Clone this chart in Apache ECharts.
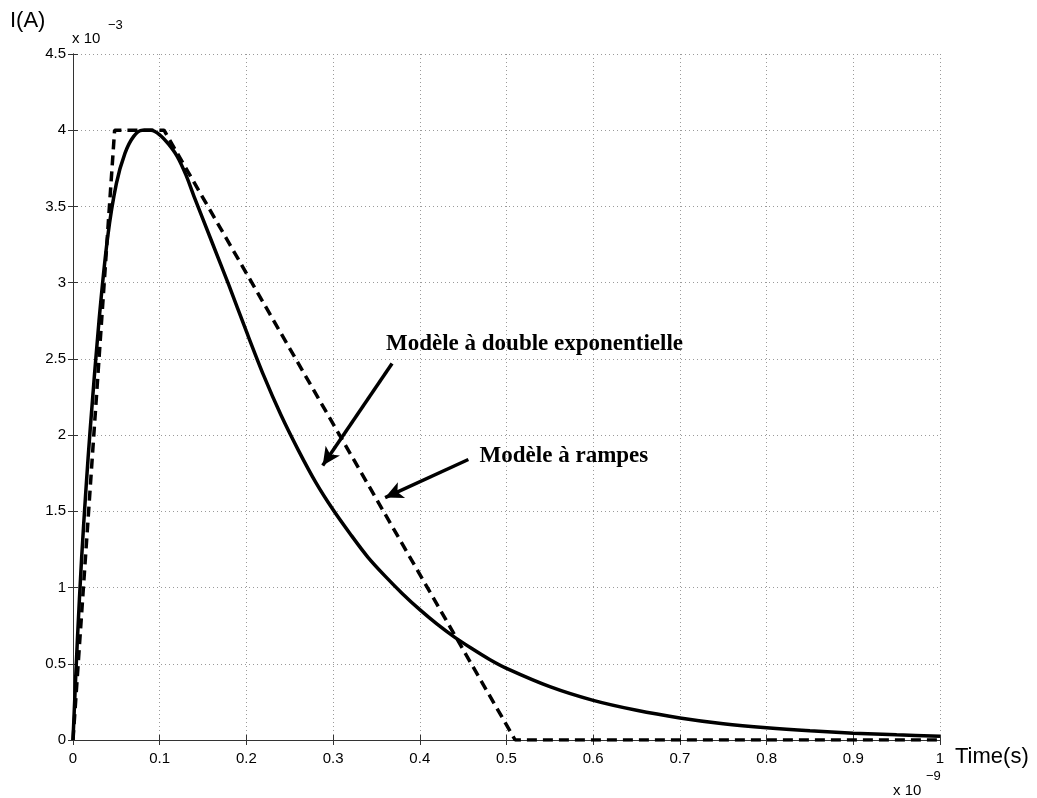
<!DOCTYPE html>
<html>
<head>
<meta charset="utf-8">
<script src="https://cdn.jsdelivr.net/npm/echarts@6/dist/echarts.min.js"></script>
<style>
  html, body { margin: 0; padding: 0; background: #fff; }
  #main { width: 1037px; height: 798px; }
</style>
</head>
<body>
<div id="main"></div>
<script>
// time in units of 1e-9 s, current in units of 1e-3 A
const expTime = [0, 0.005, 0.01, 0.015, 0.02, 0.03, 0.04, 0.05, 0.06, 0.07, 0.08, 0.09, 0.1, 0.11,
  0.12, 0.13, 0.14, 0.16, 0.18, 0.2, 0.22, 0.24, 0.26, 0.28, 0.3, 0.32, 0.34, 0.36, 0.38, 0.4,
  0.42, 0.44, 0.46, 0.48, 0.5, 0.55, 0.6, 0.65, 0.7, 0.75, 0.8, 0.85, 0.9, 0.95, 1.0];
const expCurrent = [0, 0.65, 1.2, 1.65, 2.05, 2.75, 3.3, 3.65, 3.85, 3.96, 4.0, 4.0, 3.97, 3.91,
  3.83, 3.71, 3.56, 3.27, 2.98, 2.68, 2.39, 2.13, 1.9, 1.69, 1.51, 1.35, 1.2, 1.075, 0.96, 0.855,
  0.76, 0.675, 0.6, 0.53, 0.47, 0.35, 0.26, 0.195, 0.145, 0.107, 0.08, 0.06, 0.045, 0.034, 0.025];

const rampTime = [0, 0.048, 0.105, 0.51, 1.0];
const rampCurrent = [0, 4, 4, 0, 0];

const xTicks = ['0', '0.1', '0.2', '0.3', '0.4', '0.5', '0.6', '0.7', '0.8', '0.9', '1'];
const yTicks = ['0', '0.5', '1', '1.5', '2', '2.5', '3', '3.5', '4', '4.5'];

// annotation arrows [from, to] in data units
const arrowExp = [[0.368, 2.47], [0.288, 1.80]];
const arrowRamp = [[0.456, 1.84], [0.360, 1.59]];
const labelExp = { text: 'Modèle à double exponentielle', at: [0.361, 2.60] };
const labelRamp = { text: 'Modèle à rampes', at: [0.469, 1.86] };

const chart = echarts.init(document.getElementById('main'));

const tickFont = { color: '#000', fontSize: 15, fontFamily: 'Liberation Sans' };
const axisLine = { show: true, lineStyle: { color: '#333', width: 1 } };
const axisTick = { show: true, inside: true, length: 5, lineStyle: { color: '#333' } };

const option = {
  animation: false,
  backgroundColor: '#fff',
  grid: { left: 73, right: 97, top: 54, bottom: 58 },
  xAxis: [
    {
      type: 'value', min: 0, max: 1, interval: 0.1, position: 'bottom',
      axisLine: axisLine, axisTick: axisTick,
      axisLabel: Object.assign({ margin: 11, formatter: v => xTicks[Math.round(v * 10)] }, tickFont),
      splitLine: { show: true, lineStyle: { color: '#9a9a9a', type: [1, 3], width: 1 } }
    },
    {
      type: 'value', min: 0, max: 1, interval: 0.1, position: 'top',
      axisLine: axisLine, axisTick: axisTick,
      axisLabel: { show: false }, splitLine: { show: false }
    }
  ],
  yAxis: [
    {
      type: 'value', min: 0, max: 4.5, interval: 0.5, position: 'left',
      axisLine: axisLine, axisTick: axisTick,
      axisLabel: Object.assign({ margin: 7, formatter: v => yTicks[Math.round(v * 2)] }, tickFont),
      splitLine: { show: true, lineStyle: { color: '#9a9a9a', type: [1, 3], width: 1 } }
    },
    {
      type: 'value', min: 0, max: 4.5, interval: 0.5, position: 'right',
      axisLine: axisLine, axisTick: axisTick,
      axisLabel: { show: false }, splitLine: { show: false }
    }
  ],
  series: [
    {
      name: 'rampes',
      type: 'line',
      data: rampTime.map((t, i) => [t, rampCurrent[i]]),
      showSymbol: false,
      lineStyle: { color: '#000', width: 3.5, type: [10, 6] },
      z: 3
    },
    {
      name: 'double exponentielle',
      type: 'line',
      data: expTime.map((t, i) => [t, expCurrent[i]]),
      showSymbol: false,
      smooth: 0.3,
      lineStyle: { color: '#000', width: 3.5 },
      z: 4,
      markLine: {
        silent: true,
        symbol: ['none', 'arrow'],
        symbolSize: [13, 18],
        label: { show: false },
        lineStyle: { color: '#000', width: 3.5, type: 'solid' },
        data: [
          [{ coord: arrowExp[0] }, { coord: arrowExp[1] }],
          [{ coord: arrowRamp[0] }, { coord: arrowRamp[1] }]
        ]
      }
    }
  ]
};
chart.setOption(option);

const annFont = 'bold 23px "Liberation Serif"';
const p1 = chart.convertToPixel({ gridIndex: 0 }, labelExp.at);
const p2 = chart.convertToPixel({ gridIndex: 0 }, labelRamp.at);

chart.setOption({
  graphic: [
    { type: 'text', left: 10, top: 10, style: { text: 'I(A)', font: '22px "Liberation Sans"', fill: '#000' } },
    { type: 'text', left: 72, top: 31, style: { text: 'x 10', font: '15px "Liberation Sans"', fill: '#000' } },
    { type: 'text', left: 108, top: 19, style: { text: '−3', font: '13px "Liberation Sans"', fill: '#000' } },
    { type: 'text', left: 955, top: 746, style: { text: 'Time(s)', font: '22px "Liberation Sans"', fill: '#000' } },
    { type: 'text', left: 893, top: 783, style: { text: 'x 10', font: '15px "Liberation Sans"', fill: '#000' } },
    { type: 'text', left: 926, top: 770, style: { text: '−9', font: '13px "Liberation Sans"', fill: '#000' } },
    { type: 'text', x: p1[0], y: p1[1], style: { text: labelExp.text, font: annFont, fill: '#000', textVerticalAlign: 'middle' } },
    { type: 'text', x: p2[0], y: p2[1], style: { text: labelRamp.text, font: annFont, fill: '#000', textVerticalAlign: 'middle' } }
  ]
});
</script>
</body>
</html>
